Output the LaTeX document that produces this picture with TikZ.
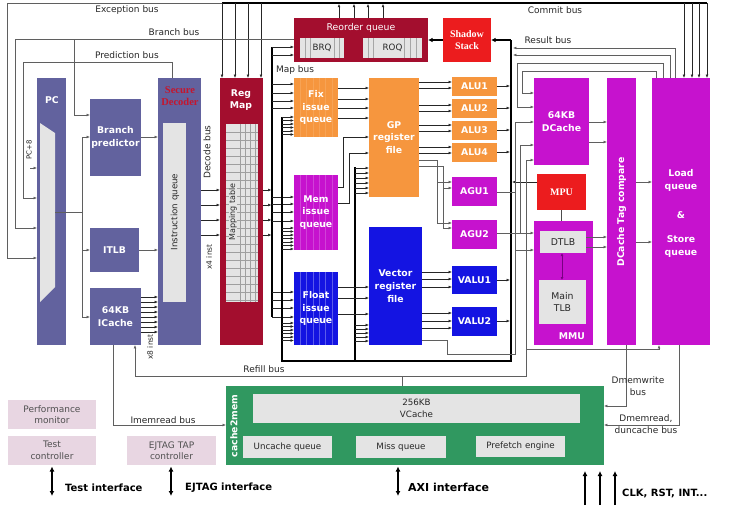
\documentclass[tikz,border=0pt]{standalone}
\usepackage{fontspec}
\setmainfont{DejaVu Sans}
\newfontfamily\serifb{Liberation Serif}
\usetikzlibrary{arrows.meta}
\definecolor{slate}{RGB}{98,98,158}
\definecolor{dred}{RGB}{163,14,46}
\definecolor{bred}{RGB}{236,28,30}
\definecolor{orng}{RGB}{246,150,62}
\definecolor{magn}{RGB}{198,18,206}
\definecolor{vblue}{RGB}{20,20,226}
\definecolor{grn}{RGB}{48,152,96}
\definecolor{lgrey}{RGB}{228,228,228}
\definecolor{lpink}{RGB}{232,214,226}
\definecolor{wire}{RGB}{95,95,95}
\definecolor{txt}{RGB}{40,40,40}
\definecolor{ptxt}{RGB}{80,80,80}
\definecolor{sdred}{RGB}{196,22,46}
\definecolor{dmag}{RGB}{120,0,130}
\newcommand\bx[7]{\node[#6,minimum width={(#4-#2)*1pt},minimum height={(#5-#3)*1pt}] (#1) at (#2,#3) {#7};}
\begin{document}
\begin{tikzpicture}[x=1pt,y=-1pt,
  base/.style={inner sep=0pt,outer sep=0pt,anchor=north west,align=center},
  blk/.style={base,fill=#1,text=white,font=\bfseries\fontsize{9.3}{12.8}\selectfont},
  inr/.style={base,fill=lgrey,text=txt,font=\fontsize{8.7}{11.5}\selectfont},
  pnk/.style={base,fill=lpink,text=ptxt,font=\fontsize{9}{11.5}\selectfont},
  wl/.style={white,font=\bfseries\fontsize{9.3}{12.8}\selectfont,align=center,inner sep=0pt},
  lbl/.style={text=txt,font=\fontsize{9}{11}\selectfont,inner sep=0pt,align=center},
  wr/.style={draw=wire,line width=0.6pt},
  ar/.style={wr,-{Latex[length=3.4pt,width=2.8pt]}},
  kar/.style={draw=black!85,line width=0.6pt,-{Latex[length=3.4pt,width=2.8pt]}},
  bus/.style={draw=black,line width=1.4pt},
  io/.style={draw=black,line width=1.8pt,{Latex[length=5pt,width=5pt]}-{Latex[length=5pt,width=5pt]}},
  clk/.style={draw=black,line width=1.8pt,-{Latex[length=5pt,width=5pt]}},
  stripes/.style={path picture={\foreach \i in {1,...,6}{\draw[#1,line width=0.5pt] ([xshift=\i*6.3pt]path picture bounding box.north west) -- ([xshift=\i*6.3pt]path picture bounding box.south west);}}},
  bold/.style={font=\bfseries\fontsize{10}{12}\selectfont,anchor=west,inner sep=0pt}
]
\useasboundingbox (0,0) rectangle (740,507);
\fill[white] (0,0) rectangle (740,507);

% ---------------- front end
\bx{pc}{37}{78}{66}{345}{blk=slate}{}
\fill[lgrey] (40,123) -- (55,133) -- (55,287) -- (40,302) -- cycle;
\node[wl] (pcl) at (52,100) {PC};
\bx{bp}{90}{99}{141}{176}{blk=slate}{Branch\\predictor}
\bx{itlb}{90}{228}{139}{272}{blk=slate}{ITLB}
\bx{icache}{90}{288}{141}{345}{blk=slate}{64KB\\ICache}
\bx{dec}{158}{78}{201}{345}{blk=slate}{}
\node[text=sdred,font=\serifb\bfseries\fontsize{10.5}{11.5}\selectfont,align=center,inner sep=0pt] (decl) at (180,96) {Secure\\Decoder};
\bx{iq}{163}{123}{186}{302}{inr}{}
\node[lbl,rotate=90,font=\fontsize{8.7}{10}\selectfont] (iql) at (175,212) {Instruction queue};

\bx{regmap}{220}{78}{263}{345}{blk=dred}{}
\node[wl] (rml) at (241,100) {Reg\\Map};
\bx{mt}{226}{124}{258}{302}{inr}{}
\foreach \x in {240,245,250,255} \draw[gray!75,line width=0.4pt] (mt.north -| \x,0) -- (mt.south -| \x,0);
\foreach \y in {132,140,...,300} \draw[gray!75,line width=0.4pt] (mt.west |- 0,\y) -- (mt.east |- 0,\y);
\node[lbl,rotate=90,font=\fontsize{8}{9}\selectfont,fill=lgrey,inner sep=0.5pt] (mtl) at (233,212) {Mapping table};

% ---------------- ROB etc
\bx{rob}{294}{18}{428}{62}{blk=dred}{}
\node[lbl,text=white,font=\fontsize{9.3}{10}\selectfont] (robl) at (361,28) {Reorder queue};
\bx{brq}{300}{38}{344}{58}{inr}{BRQ}
\bx{roq}{363}{38}{422}{58}{inr}{ROQ}
\foreach \x in {305,310,334,339} \draw[gray!70,line width=0.5pt] (brq.north -| \x,0) -- (brq.south -| \x,0);
\foreach \x in {368,373,404,410,416} \draw[gray!70,line width=0.5pt] (roq.north -| \x,0) -- (roq.south -| \x,0);
\bx{ss}{443}{18}{491}{62}{base,fill=bred,text=white,font=\serifb\bfseries\fontsize{10}{12}\selectfont}{Shadow\\Stack}

\bx{fixq}{294}{78}{338}{137}{blk=orng,stripes=orng!88!white}{Fix\\issue\\queue}
\bx{memq}{294}{175}{338}{250}{blk=magn,stripes=magn!80!white}{Mem\\issue\\queue}
\bx{fltq}{294}{272}{338}{345}{blk=vblue,stripes=vblue!70!white}{Float\\issue\\queue}
\bx{gprf}{369}{78}{419}{197}{blk=orng}{GP\\register\\file}
\bx{vrf}{369}{227}{422}{345}{blk=vblue}{Vector\\register\\file}
\bx{alu1}{452}{77}{497}{96}{blk=orng}{ALU1}
\bx{alu2}{452}{99}{497}{118}{blk=orng}{ALU2}
\bx{alu3}{452}{121}{497}{140}{blk=orng}{ALU3}
\bx{alu4}{452}{143}{497}{162}{blk=orng}{ALU4}
\bx{agu1}{452}{177}{497}{206}{blk=magn}{AGU1}
\bx{agu2}{452}{220}{497}{249}{blk=magn}{AGU2}
\bx{valu1}{452}{266}{497}{294}{blk=vblue}{VALU1}
\bx{valu2}{452}{307}{497}{336}{blk=vblue}{VALU2}

% ---------------- memory
\bx{dcache}{534}{78}{589}{165}{blk=magn}{64KB\\DCache}
\bx{mpu}{537}{174}{586}{210}{base,fill=bred,text=white,font=\serifb\bfseries\fontsize{10}{11}\selectfont}{MPU}
\bx{mmu}{534}{221}{593}{345}{blk=magn}{}
\node[wl] (mmul) at (572,336) {MMU};
\bx{dtlb}{540}{231}{586}{253}{inr,font=\fontsize{9.3}{11}\selectfont}{DTLB}
\bx{mtlb}{539}{280}{586}{324}{inr,font=\fontsize{9.3}{12.5}\selectfont}{Main\\TLB}
\bx{tagc}{607}{78}{636}{345}{blk=magn}{}
\node[wl,rotate=90] (tagl) at (621.5,212) {DCache Tag compare};
\bx{lsq}{652}{78}{710}{345}{blk=magn}{}
\node[wl,font=\bfseries\fontsize{9.3}{13}\selectfont] (lsql) at (681,213) {Load\\queue\\[16pt]\&\\[11pt]Store\\queue};

\bx{c2m}{226}{386}{604}{465}{blk=grn}{}
\node[wl,rotate=90] (c2ml) at (234,426) {cache2mem};
\bx{vc}{253}{394}{580}{423}{inr}{256KB\\VCache}
\bx{ucq}{243}{436}{332}{458}{inr}{Uncache queue}
\bx{missq}{356}{436}{446}{458}{inr}{Miss queue}
\bx{pfe}{476}{436}{565}{457}{inr}{Prefetch engine}

\bx{perf}{8}{400}{96}{429}{pnk}{Performance\\monitor}
\bx{testc}{8}{436}{96}{465}{pnk}{Test\\controller}
\bx{ejtag}{127}{436}{216}{465}{pnk}{EJTAG TAP\\controller}

% ---------------- top buses
\coordinate (ctl) at (222,3);
\coordinate (ctr) at (707,3);
\draw[ar] (ctl) -- (7,3) |- (pc.west |- 0,258);
\draw[bus] (ctl) -- (ctr);
\foreach \x in {222,235,248,261} \draw[kar] (\x,3) -- (regmap.north -| \x,0);
\foreach \x in {339,354,368,383} \draw[kar] (rob.north -| \x,0) -- (\x,3.8);
\foreach \x in {684,692,699,707} \draw[kar] (\x,3) -- (lsq.north -| \x,0);

% branch / prediction
\draw[ar] (rob.west |- 0,39) -- (15,39) |- (pc.west |- 0,228);
\draw[ar] (74,39) |- (bp.west |- 0,115);
\draw[ar] (dec.north -| 172,0) -- (172,62) -- (23,62) |- (pc.west |- 0,198);
\draw[ar] (30,168) -- (pc.west |- 0,168);
\coordinate (pco) at (82,212);
\draw[wr] (55,212) -- (pco);
\draw[ar] (pco) |- (bp.west |- 0,137);
\draw[ar] (pco) |- (itlb.west |- 0,250);
\draw[ar] (pco) |- (icache.west |- 0,317);
\draw[ar] (bp.east |- 0,137) -- (dec.west |- 0,137);
\draw[ar] (itlb.east |- 0,250) -- (dec.west |- 0,250);
\foreach \y in {297,302,...,332} \draw[kar] (icache.east |- 0,\y) -- (dec.west |- 0,\y);

% decode / map bus
\foreach \y in {190,205,220,235} \draw[kar] (dec.east |- 0,\y) -- (regmap.west |- 0,\y);
\coordinate (mbt) at (272,47);
\coordinate (mbb) at (272,317);
\draw[bus,line width=1.1pt] (mbt) -- (mbb);
\foreach \y in {190,205,220,235} \draw[kar] (regmap.east |- 0,\y) -- (271.5,\y);
\foreach \y in {47,55} \draw[kar] (272,\y) -- (rob.west |- 0,\y);
\foreach \y in {84,93,101,108} \draw[kar] (272,\y) -- (fixq.west |- 0,\y);
\foreach \y in {197,204,212,221} \draw[kar] (272,\y) -- (memq.west |- 0,\y);
\foreach \y in {292,300,308,317} \draw[kar] (272,\y) -- (fltq.west |- 0,\y);

% result bus
\draw[bus] (282,117) -- (282,361) -- (511,361) -- (511,40);
\draw[bus] (355,167) -- (355,361);
\draw[bus,-{Latex[length=4.5pt,width=4.5pt]}] (511,40) -- (ss.east |- 0,40);
\draw[bus,-{Latex[length=4.5pt,width=4.5pt]}] (ss.west |- 0,40) -- (rob.east |- 0,40);
\foreach \y in {117,120.5,...,135} \draw[kar] (282,\y) -- (fixq.west |- 0,\y);
\foreach \y in {228,231.5,...,249} \draw[kar] (282,\y) -- (memq.west |- 0,\y);
\foreach \y in {323,326.5,...,342} \draw[kar] (282,\y) -- (fltq.west |- 0,\y);
\foreach \y in {168,173,...,193} \draw[kar] (355,\y) -- (gprf.west |- 0,\y);
\foreach \y in {325,329,...,343} \draw[kar] (355,\y) -- (vrf.west |- 0,\y);

% issue queues -> register files
\foreach \y in {88,99,108,118} \draw[kar] (fixq.east |- 0,\y) -- (gprf.west |- 0,\y);
\draw[kar] (memq.east |- 0,187) -- (343,187) |- (gprf.west |- 0,137);
\draw[kar] (memq.east |- 0,203) -- (349,203) |- (gprf.west |- 0,153);
\foreach \y in {287,298,314} \draw[kar] (fltq.east |- 0,\y) -- (vrf.west |- 0,\y);

% register files -> units
\foreach \n/\a/\b in {alu1/82/88,alu2/105/111,alu3/125/131,alu4/147/153} {
  \draw[kar] (gprf.east |- 0,\a) -- (\n.west |- 0,\a);
  \draw[kar] (gprf.east |- 0,\b) -- (\n.west |- 0,\b);}
\draw[ar] (gprf.east |- 0,160) -- (437,160) |- (agu2.west |- 0,223);
\draw[ar] (gprf.east |- 0,166) -- (443,166) |- (agu2.west |- 0,228);
\draw[ar] (437,182) -- (agu1.west |- 0,182);
\draw[ar] (443,188) -- (agu1.west |- 0,188);
\foreach \y in {272,279,287} \draw[kar] (vrf.east |- 0,\y) -- (valu1.west |- 0,\y);
\foreach \y in {313,321,328} \draw[kar] (vrf.east |- 0,\y) -- (valu2.west |- 0,\y);

% units -> result bus
\foreach \n/\y in {alu1/86,alu2/108,alu3/130,alu4/152,valu1/280,valu2/321} \draw[kar] (\n.east |- 0,\y) -- (510,\y);
\draw[kar] (mpu.west |- 0,182) -- (512,182);

% address paths
\draw[ar] (agu1.east |- 0,192) -- (515,192) |- (dcache.west |- 0,122);
\draw[ar] (515,192) |- (mmu.west |- 0,250);
\draw[ar] (agu2.east |- 0,233) -- (mmu.west |- 0,233);
\draw[ar] (520,233) |- (dcache.west |- 0,145);
\draw[wr] (vrf.east |- 0,340) -- (447,340) |- (515,354) -- (515,250);

% load/store queue
\draw[ar] (lsq.north -| 675,0) |- (513,48);
\draw[ar] (lsq.north -| 670,0) |- (513,55);
\draw[ar] (lsq.north -| 663,0) |- (517,63) |- (dcache.west |- 0,107);
\draw[ar] (lsq.north -| 656,0) |- (522,71) |- (dcache.west |- 0,93);
\foreach \y in {122,142} \draw[ar] (dcache.east |- 0,\y) -- (tagc.west |- 0,\y);
\foreach \y in {237,247} \draw[ar] (dtlb.east |- 0,\y) -- (tagc.west |- 0,\y);
\foreach \y in {182,242} \draw[ar] (tagc.east |- 0,\y) -- (lsq.west |- 0,\y);
\draw[draw=black!70,line width=0.7pt] (mpu.south -| 561,0) -- (mmu.north -| 561,0);
\draw[draw=dmag,line width=0.8pt,{Latex[length=3pt,width=3pt]}-{Latex[length=3pt,width=3pt]}] (dtlb.south -| 562,0) -- (mtlb.north -| 562,0);

% refill / memory buses
\coordinate (rf) at (402,376);
\draw[wr] (c2m.north -| 402,0) -- (rf);
\draw[ar] (rf) -| (icache.south -| 135,0);
\draw[ar] (rf) -- (526,376) |- (dcache.west |- 0,160);
\draw[ar] (526,349) -| (lsq.south -| 659,0);
\draw[ar] (icache.south -| 113,0) |- (c2m.west |- 0,425);
\draw[ar] (tagc.south -| 626,0) |- (c2m.east |- 0,406);
\draw[ar] (lsq.south -| 679,0) |- (c2m.east |- 0,425);

% interfaces
\coordinate (ti) at (52,496);
\coordinate (ei) at (171,496);
\coordinate (ai) at (398,496);
\draw[io] ([yshift=-1.5pt]testc.south -| 52,0) -- (ti);
\draw[io] ([yshift=-1.5pt]ejtag.south -| 171,0) -- (ei);
\draw[io] ([yshift=-1.5pt]c2m.south -| 398,0) -- (ai);
\foreach \x in {585,600,615} \draw[clk] (\x,505) -- (\x,471);

% labels
\node[lbl] (l1) at (127,10) {Exception bus};
\node[lbl] (l2) at (174,32) {Branch bus};
\node[lbl] (l3) at (127,55) {Prediction bus};
\node[lbl] (l4) at (555,10) {Commit bus};
\node[lbl] (l5) at (548,40) {Result bus};
\node[lbl] (l6) at (295,70) {Map bus};
\node[lbl] (l7) at (264,369) {Refill bus};
\node[lbl] (l8) at (163,420) {Imemread bus};
\node[lbl,font=\fontsize{9}{11.5}\selectfont] (l9) at (638,386) {Dmemwrite\\bus};
\node[lbl,font=\fontsize{9}{12}\selectfont] (l10) at (646,424) {Dmemread,\\duncache bus};
\node[lbl,rotate=90,font=\fontsize{7}{8}\selectfont] (l11) at (29,150) {PC+8};
\node[lbl,rotate=90] (l12) at (207,152) {Decode bus};
\node[lbl,rotate=90,font=\fontsize{7.5}{8}\selectfont] (l13) at (209,257) {x4 inst};
\node[lbl,rotate=90,font=\fontsize{7.5}{8}\selectfont] (l14) at (150,347) {x8 inst};
\node[bold] (l15) at (65,488) {Test interface};
\node[bold] (l16) at (185,488) {EJTAG interface};
\node[bold,font=\bfseries\fontsize{11}{13}\selectfont] (l17) at (408,487) {AXI interface};
\node[bold] (l18) at (622,493) {CLK, RST, INT...};
\end{tikzpicture}
\end{document}
